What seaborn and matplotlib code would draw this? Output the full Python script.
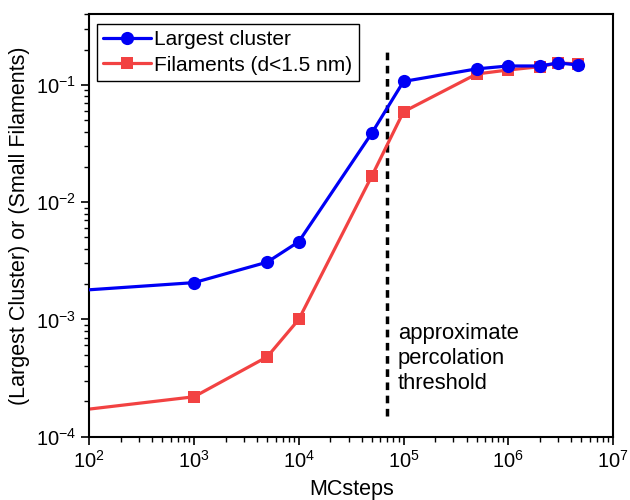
import pandas as pd
import matplotlib
matplotlib.use('Agg')
import matplotlib.pyplot as plt
import seaborn as sns

# values (the lines start at 1e2 without a marker)
line_steps = [1e2, 1e3, 5e3, 1e4, 5e4, 1e5, 5e5, 1e6, 2e6, 3e6, 4.6e6]
largest_cluster = [0.00179, 0.00206, 0.00308, 0.0046, 0.039, 0.107, 0.137, 0.145, 0.145, 0.154, 0.148]
filaments = [1.72e-4, 2.19e-4, 4.8e-4, 1.0e-3, 0.0168, 0.059, 0.124, 0.134, 0.143, 0.154, 0.151]

threshold_x = 7e4
threshold_y = [1.5e-4, 0.19]

sns.set_style("ticks")
plt.rcParams['font.family'] = ['Liberation Sans', 'DejaVu Sans']
plt.rcParams['mathtext.default'] = 'regular'
plt.rcParams['text.color'] = 'black'
plt.rcParams['axes.labelcolor'] = 'black'
plt.rcParams['xtick.color'] = 'black'
plt.rcParams['ytick.color'] = 'black'

df = pd.DataFrame({'steps': line_steps * 2,
                   'value': largest_cluster + filaments,
                   'series': ['Largest cluster'] * len(line_steps) + ['Filaments (d<1.5 nm)'] * len(line_steps)})

fig = plt.figure(figsize=(6.3, 5), dpi=100)
ax = fig.add_axes([0.1417, 0.1266, 0.8313, 0.8448])

blue = '#0000F5'
red = '#F24242'

# lines first, markers only on the measured points (skip the 1e2 start)
for name, color, mk, ms in [('Largest cluster', blue, 'o', 9.5), ('Filaments (d<1.5 nm)', red, 's', 8.5)]:
    sub = df[df['series'] == name]
    sns.lineplot(data=sub, x='steps', y='value', ax=ax, color=color, lw=2.3,
                 marker=mk, markersize=ms, markeredgewidth=0, markevery=list(range(1, len(sub))),
                 estimator=None, label=name, zorder=3 if mk == 'o' else 2)

ax.plot([threshold_x, threshold_x], threshold_y, color='black', lw=2.5, ls=(0, (2.2, 1.6)), zorder=1)
ax.text(8.8e4, 4.6e-4, 'approximate\npercolation\nthreshold', fontsize=15.8, va='center', ha='left',
        linespacing=1.25)

ax.set_xscale('log')
ax.set_yscale('log')
ax.set_xlim(1e2, 1e7)
ax.set_ylim(1e-4, 0.4)

ax.set_xlabel('MCsteps', fontsize=15.5, labelpad=5)
ax.set_ylabel('(Largest Cluster) or (Small Filaments)', fontsize=15.5, labelpad=4)
ax.tick_params(which='major', direction='out', length=6, width=1.2, labelsize=14.5, top=False, right=False)
ax.tick_params(which='minor', direction='out', length=3.5, width=1.0, top=False, right=False)
for s in ax.spines.values():
    s.set_linewidth(1.5)
    s.set_color('black')
    s.set_visible(True)

leg = ax.legend(loc='upper left', bbox_to_anchor=(0.0147, 0.977), fontsize=15, frameon=True, fancybox=False,
                edgecolor='black', handlelength=2.3, handletextpad=0.15, labelspacing=0.3, borderpad=0.3,
                borderaxespad=0, framealpha=1)
leg.get_frame().set_linewidth(1.0)

plt.savefig('out.png', dpi=100)
plt.close()
